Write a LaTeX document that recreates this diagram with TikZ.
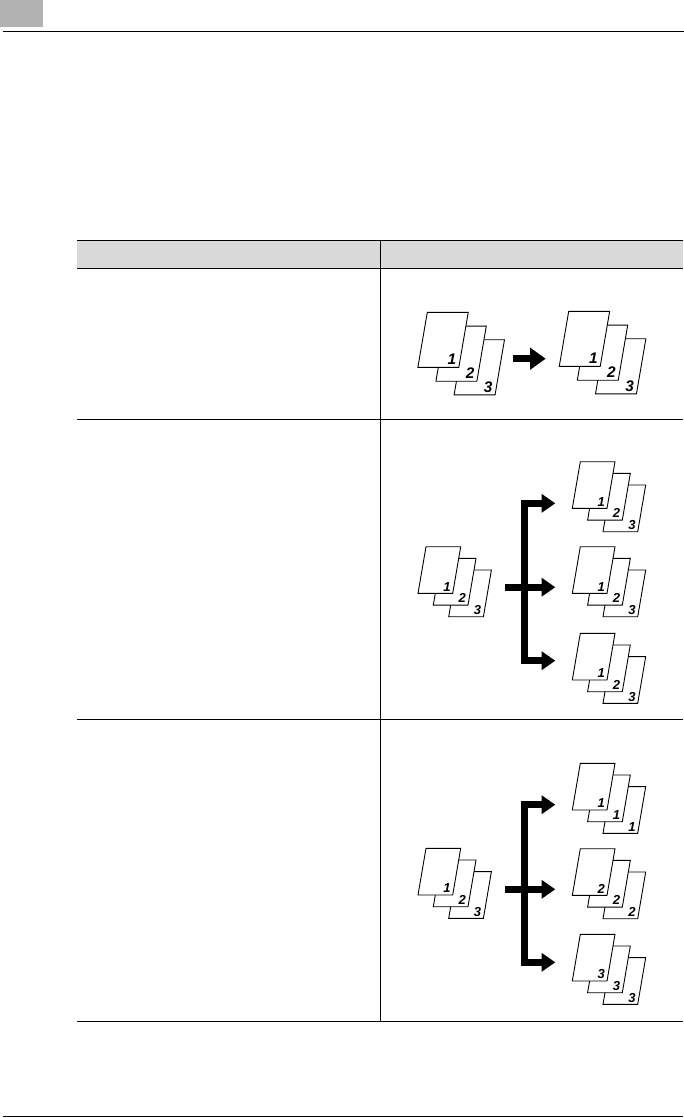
\documentclass[tikz,border=0pt]{standalone}
\usepackage{fontspec}
\setsansfont{Liberation Sans}
\usetikzlibrary{arrows.meta, positioning}

\tikzset{
  rule/.style={line width=1pt, black},
  sheet/.style={draw=black, fill=white, line width=0.9pt, line join=miter},
  pagenum/.style={inner sep=0pt, transform shape, font=\fontsize{13}{13}\sffamily\bfseries\itshape},
  trunk/.style={line width=7pt, black},
  branch/.style={line width=7pt, black, -{Triangle[length=13.7pt, width=18pt]}},
  bigbranch/.style={line width=7pt, black, -{Triangle[length=15.7pt, width=21.3pt]}},
  % three offset sheets, anchored at the top left corner of the front one
  pics/sheets/.style n args={3}{code={
    \foreach \dx/\dy/\num/\tag in {30.7/23.3/#3/c, 15.3/11.7/#2/b, 0/0/#1/a} {
      \draw[sheet] (\dx,\dy) -- ++(34.7,0) -- ++(-8,46.7) -- ++(-34.7,0) -- cycle;
      \node[pagenum] (-\tag) at (\dx+20.9,\dy+40) {\num};
    }
  }},
}

\begin{document}
\begin{tikzpicture}[x=1pt, y=-1pt]
  \useasboundingbox (0,0) rectangle (684,1118);
  % page tab and rules
  \fill[black!30] (0,0) rectangle (43,27);
  \draw[rule] (3,31.5) coordinate (topL) -- (684,31.5) coordinate (topR);
  \draw[rule] (3,1116.7) coordinate (botL) -- (683,1116.7) coordinate (botR);
  % table
  \fill[black!15] (77,240) rectangle (683,268);
  \foreach \y/\n in {240/a, 268/b, 419/c, 719/d, 1021.5/e}
    \draw[rule] (77,\y) coordinate (rowL\n) -- (683,\y) coordinate (rowR\n);
  \draw[rule] (380.3,240) coordinate (colT) -- (380.3,1021.5) coordinate (colB);

  % row one
  \pic[scale=1.18] (srcA) at (427.3,312.3) {sheets={1}{2}{3}};
  \pic[scale=1.18] (dstA) at (568.7,311.3) {sheets={1}{2}{3}};
  \coordinate (fromA) at (513.3,358.7);
  \coordinate (toA) at (545.7,358.7);
  \draw[bigbranch] (fromA) -- (toA);

  % rows two and three
  \foreach \r/\top/\bot/\ya/\yb/\yc/\ys in {
      B/499.7/664/503.3/587.2/660.7/546.7,
      C/800.7/966/804.7/889.3/962.3/848.3} {
    \pic (src\r) at (426,\ys) {sheets={1}{2}{3}};
    \coordinate (barT\r) at (524,\top);
    \coordinate (barB\r) at (524,\bot);
    \coordinate (feed\r) at (505.3,\yb);
    \draw[trunk] (barT\r) -- (barB\r);
    \foreach \k/\y in {a/\ya, b/\yb, c/\yc} {
      \coordinate (tip\r\k) at (555.3,\y);
      \coordinate (stub\r\k) at (524,\y);
    }
    \draw[branch] (stub\r a) -- (tip\r a);
    \draw[branch] (feed\r) -- (tip\r b);
    \draw[branch] (stub\r c) -- (tip\r c);
  }
  \pic (dstBa) at (580.3,461.7) {sheets={1}{2}{3}};
  \pic (dstBb) at (580.3,546.7) {sheets={1}{2}{3}};
  \pic (dstBc) at (580.3,633.3) {sheets={1}{2}{3}};
  \pic (dstCa) at (580.3,763.3) {sheets={1}{1}{1}};
  \pic (dstCb) at (580.3,848.7) {sheets={2}{2}{2}};
  \pic (dstCc) at (580.3,934.3) {sheets={3}{3}{3}};
\end{tikzpicture}
\end{document}
